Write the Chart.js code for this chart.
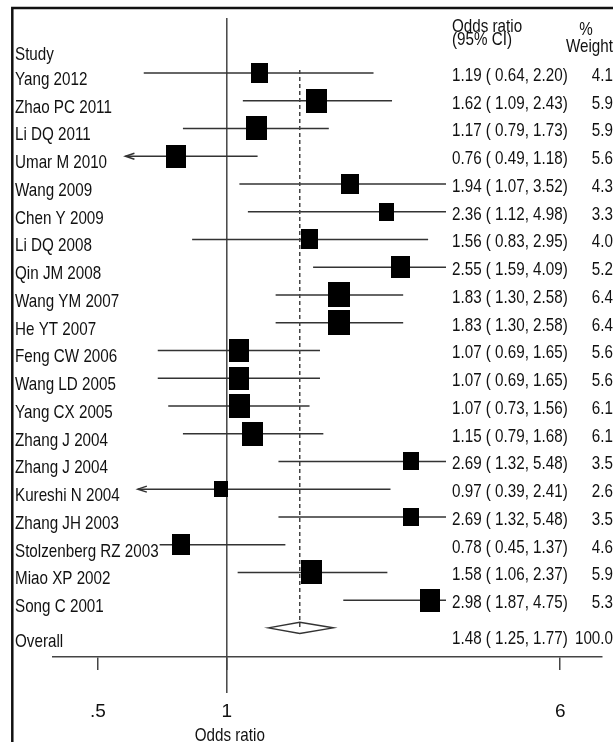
<!DOCTYPE html>
<html>
<head>
<meta charset="utf-8">
<script src="https://cdn.jsdelivr.net/npm/chart.js@4.4.0/dist/chart.umd.min.js"></script>
<style>
  html, body { margin: 0; padding: 0; background: #fff; overflow: hidden; }
</style>
</head>
<body>
<canvas id="forest" width="613" height="746"></canvas>
<script>
const studies = ["Yang 2012", "Zhao PC 2011", "Li DQ 2011", "Umar M 2010", "Wang 2009", "Chen Y 2009",
  "Li DQ 2008", "Qin JM 2008", "Wang YM 2007", "He YT 2007", "Feng CW 2006", "Wang LD 2005",
  "Yang CX 2005", "Zhang J 2004", "Zhang J 2004", "Kureshi N 2004", "Zhang JH 2003",
  "Stolzenberg RZ 2003", "Miao XP 2002", "Song C 2001"];
const oddsRatio = [1.19, 1.62, 1.17, 0.76, 1.94, 2.36, 1.56, 2.55, 1.83, 1.83, 1.07, 1.07, 1.07, 1.15, 2.69, 0.97, 2.69, 0.78, 1.58, 2.98];
const ciLow = [0.64, 1.09, 0.79, 0.49, 1.07, 1.12, 0.83, 1.59, 1.30, 1.30, 0.69, 0.69, 0.73, 0.79, 1.32, 0.39, 1.32, 0.45, 1.06, 1.87];
const ciHigh = [2.20, 2.43, 1.73, 1.18, 3.52, 4.98, 2.95, 4.09, 2.58, 2.58, 1.65, 1.65, 1.56, 1.68, 5.48, 2.41, 5.48, 1.37, 2.37, 4.75];
const weights = [4.1, 5.9, 5.9, 5.6, 4.3, 3.3, 4.0, 5.2, 6.4, 6.4, 5.6, 5.6, 6.1, 6.1, 3.5, 2.6, 3.5, 4.6, 5.9, 5.3];
// where the picture cuts a CI short with an arrow
const ciLowArrow = [null, null, null, 0.58, null, null, null, null, null, null, null, null, null, null, null, 0.62, null, null, null, null];

const overallOR = 1.48;
const overallLow = 1.25;
const overallHigh = 1.77;
const overallWeight = 100.0;

const xTicks = [0.5, 1, 6];
const xTickLabels = [".5", "1", "6"];

const FAMILY = '"Liberation Sans", Arial, sans-serif';
const FONT = '19px ' + FAMILY;
const SQUEEZE = 0.8; // the original type is a narrow face
const INK = '#111';
const LINE = '#333';

// filled box for each study, area follows the weight
function weightBox(w) {
  const c = document.createElement('canvas');
  c.width = Math.round(8.5 * Math.sqrt(w));
  c.height = Math.round(9.8 * Math.sqrt(w));
  const g = c.getContext('2d');
  g.fillStyle = '#000';
  g.fillRect(0, 0, c.width, c.height);
  return c;
}

function ciText(or, lo, hi) {
  return or.toFixed(2) + ' ( ' + lo.toFixed(2) + ', ' + hi.toFixed(2) + ')';
}

function narrowText(ctx, text, x, y, align) {
  ctx.save();
  ctx.translate(x, y);
  ctx.scale(SQUEEZE, 1);
  ctx.textAlign = align || 'left';
  ctx.fillText(text, 0, 0);
  ctx.restore();
}

const forestPlugin = {
  id: 'forest',
  beforeDatasetsDraw(chart) {
    const { ctx, chartArea, scales: { x, y } } = chart;
    ctx.save();
    ctx.lineCap = 'butt';

    // line of no effect
    const x1 = x.getPixelForValue(1);
    ctx.strokeStyle = '#444';
    ctx.lineWidth = 1.5;
    ctx.beginPath();
    ctx.moveTo(x1, 18);
    ctx.lineTo(x1, 693);
    ctx.stroke();

    // confidence intervals
    ctx.save();
    ctx.beginPath();
    ctx.rect(chartArea.left, chartArea.top, chartArea.right - chartArea.left, chartArea.bottom - chartArea.top);
    ctx.clip();
    ctx.strokeStyle = LINE;
    ctx.lineWidth = 1.5;
    studies.forEach((s, i) => {
      const yy = y.getPixelForValue(i);
      const lo = ciLowArrow[i] !== null ? ciLowArrow[i] : ciLow[i];
      const xa = x.getPixelForValue(lo);
      const xb = x.getPixelForValue(ciHigh[i]);
      ctx.beginPath();
      ctx.moveTo(xa, yy);
      ctx.lineTo(xb, yy);
      ctx.stroke();
      if (ciLowArrow[i] !== null) {
        ctx.beginPath();
        ctx.moveTo(xa + 9, yy - 3);
        ctx.lineTo(xa, yy);
        ctx.lineTo(xa + 9, yy + 3);
        ctx.stroke();
      }
    });
    ctx.restore();

    // overall diamond
    const yo = y.getPixelForValue(studies.length);
    const xo = x.getPixelForValue(overallOR);
    ctx.fillStyle = '#fff';
    ctx.strokeStyle = LINE;
    ctx.lineWidth = 1.5;
    ctx.beginPath();
    ctx.moveTo(x.getPixelForValue(overallLow), yo);
    ctx.lineTo(xo, yo - 5.5);
    ctx.lineTo(x.getPixelForValue(overallHigh), yo);
    ctx.lineTo(xo, yo + 5.5);
    ctx.closePath();
    ctx.fill();
    ctx.stroke();

    // overall estimate, dashed
    ctx.setLineDash([4, 3]);
    ctx.strokeStyle = '#444';
    ctx.lineWidth = 1.5;
    ctx.beginPath();
    ctx.moveTo(xo, y.getPixelForValue(0) - 3);
    ctx.lineTo(xo, yo);
    ctx.stroke();
    ctx.setLineDash([]);

    // text columns sit on white
    ctx.fillStyle = '#fff';
    ctx.fillRect(446, 55, 170, 594);

    ctx.font = FONT;
    ctx.textBaseline = 'alphabetic';
    ctx.fillStyle = INK;
    narrowText(ctx, 'Study', 15, y.getPixelForValue(-1) + 15);
    narrowText(ctx, 'Odds ratio', 452, 32);
    narrowText(ctx, '(95% CI)', 452, 45);
    narrowText(ctx, '%', 586, 35, 'center');
    narrowText(ctx, 'Weight', 613, 52, 'right');

    const rows = studies.concat(['Overall']);
    rows.forEach((s, i) => {
      const yy = y.getPixelForValue(i);
      const isAll = i === studies.length;
      const bl = yy + (isAll ? 19 : 12);
      const w = ctx.measureText(s).width * SQUEEZE;
      ctx.fillStyle = '#fff';
      ctx.fillRect(14.5, bl - 16, w + 1.5, 21);
      ctx.fillStyle = INK;
      narrowText(ctx, s, 15, bl);

      const br = yy + (isAll ? 16 : 8);
      const txt = isAll ? ciText(overallOR, overallLow, overallHigh) : ciText(oddsRatio[i], ciLow[i], ciHigh[i]);
      const wt = isAll ? overallWeight : weights[i];
      narrowText(ctx, txt, 452, br);
      narrowText(ctx, wt.toFixed(1), 613, br, 'right');
    });

    // axis title, centred under the null line as in the original
    narrowText(ctx, 'Odds ratio', x1 + 3, 741, 'center');
    ctx.restore();
  },
  afterDraw(chart) {
    const { ctx } = chart;
    ctx.save();
    ctx.strokeStyle = '#111';
    ctx.lineWidth = 2.5;
    ctx.strokeRect(12.3, 8, 700, 800);
    ctx.restore();
  }
};

const ctx = document.getElementById('forest');
new Chart(ctx, {
  type: 'scatter',
  data: {
    datasets: [{
      data: oddsRatio.map((v, i) => ({ x: v, y: i })),
      pointStyle: weights.map(weightBox),
      pointRadius: 10,
      pointHoverRadius: 10,
      backgroundColor: '#000',
      borderColor: '#000'
    }]
  },
  options: {
    responsive: false,
    animation: false,
    devicePixelRatio: 1,
    events: [],
    layout: { padding: { left: 53, right: 7, top: 20, bottom: 0 } },
    plugins: { legend: { display: false }, tooltip: { enabled: false } },
    scales: {
      x: {
        type: 'logarithmic',
        min: 0.393,
        max: 7.51,
        afterBuildTicks: axis => { axis.ticks = xTicks.map(v => ({ value: v })); },
        afterFit: axis => { axis.height = 89; },
        ticks: {
          callback: (v, i) => xTickLabels[i],
          font: { family: FAMILY, size: 19 },
          color: INK,
          padding: 30,
          maxRotation: 0,
          autoSkip: false
        },
        grid: { drawOnChartArea: false, drawTicks: true, tickLength: 13, color: '#444', lineWidth: 1.5 },
        border: { display: true, color: '#444', width: 1.5 }
      },
      y: {
        type: 'linear',
        reverse: true,
        min: -1.91,
        max: 21.05,
        display: false
      }
    }
  },
  plugins: [forestPlugin]
});
</script>
</body>
</html>
